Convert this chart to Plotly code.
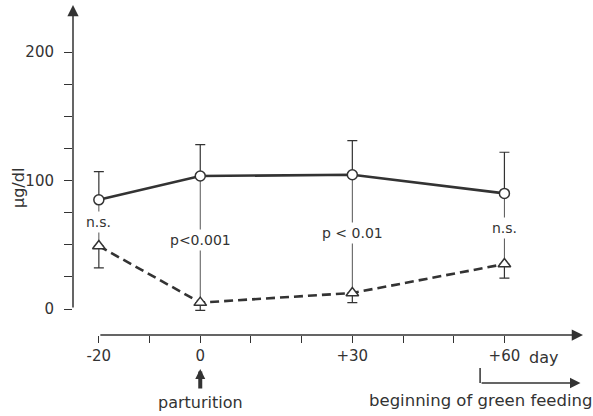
import plotly.graph_objects as go

# ---- data ----
days = [-20, 0, 30, 60]
circle_mean = [85, 103.5, 104.5, 90]
circle_upper = [107, 128, 131, 122]
tri_mean = [49, 5, 12.5, 35]
tri_lower = [32, -1, 5, 24]
sig_labels = ["n.s.", "p<0.001", "p < 0.01", "n.s."]

x_tickvals = [-20, -10, 0, 10, 20, 30, 40, 50, 60]
x_ticktext = ["-20", "", "0", "", "", "+30", "", "", "+60"]
y_tickvals = [0, 25, 50, 75, 100, 125, 150, 175, 200]
y_ticktext = ["0", "", "", "", "100", "", "", "", "200"]

# ---- layout constants ----
label_y = [67.7, 53.7, 59, 63]
X_RANGE = [-25.1, 75.5]
Y_RANGE = [-20.2, 236.6]
GREEN_START = 55.2
INK = "#333333"
FONT = "DejaVu Sans"
YD = "y domain"

fig = go.Figure()

# thin vertical connectors between the two series
cx, cy = [], []
for d, a, b in zip(days, circle_mean, tri_mean):
    cx += [d, d, None]
    cy += [a, b, None]
fig.add_trace(go.Scatter(x=cx, y=cy, mode="lines",
                         line=dict(color="#555555", width=1),
                         hoverinfo="skip", showlegend=False))

# dashed series with triangles (lower error bars)
fig.add_trace(go.Scatter(
    x=days, y=tri_mean, mode="lines+markers",
    line=dict(color=INK, width=2.6, dash="9px,5px"),
    marker=dict(symbol="triangle-up", size=11, color="white",
                line=dict(color=INK, width=1.5)),
    error_y=dict(type="data", symmetric=False,
                 array=[0] * len(days),
                 arrayminus=[m - l for m, l in zip(tri_mean, tri_lower)],
                 color=INK, thickness=1.2, width=5),
    showlegend=False))

# solid series with circles (upper error bars)
fig.add_trace(go.Scatter(
    x=days, y=circle_mean, mode="lines+markers",
    line=dict(color=INK, width=2.6),
    marker=dict(symbol="circle", size=10, color="white",
                line=dict(color=INK, width=1.5)),
    error_y=dict(type="data", symmetric=False,
                 array=[u - m for u, m in zip(circle_upper, circle_mean)],
                 arrayminus=[0] * len(days),
                 color=INK, thickness=1.2, width=5),
    showlegend=False))

annotations = []
for d, lab, ly in zip(days, sig_labels, label_y):
    annotations.append(dict(x=d, y=ly, xref="x", yref="y", text=lab,
                            xanchor="center", yanchor="middle",
                            showarrow=False, bgcolor="white", borderpad=2,
                            font=dict(family=FONT, size=14, color=INK)))

# y axis line with arrow
annotations.append(dict(x=X_RANGE[0], y=Y_RANGE[1], ax=X_RANGE[0], ay=0,
                        xref="x", yref="y", axref="x", ayref="y", text="",
                        showarrow=True, arrowhead=2, arrowsize=1.5,
                        arrowwidth=1.5, arrowcolor=INK))
# x axis line with arrow
annotations.append(dict(x=X_RANGE[1], y=Y_RANGE[0], ax=-20, ay=Y_RANGE[0],
                        xref="x", yref="y", axref="x", ayref="y", text="",
                        showarrow=True, arrowhead=2, arrowsize=1.5,
                        arrowwidth=1.5, arrowcolor=INK))

def py2d(py):
    return (335 - py) / 330.0

annotations.append(dict(x=67.8, y=py2d(357), xref="x", yref=YD,
                        xanchor="center", yanchor="middle",
                        text="day", showarrow=False,
                        font=dict(family=FONT, size=16, color=INK)))
# parturition arrow and label
annotations.append(dict(x=0, y=py2d(369), ax=0, ay=py2d(390),
                        xref="x", yref=YD, axref="x", ayref=YD,
                        text="", showarrow=True, arrowhead=2, arrowsize=0.5,
                        arrowwidth=4, arrowcolor=INK))
annotations.append(dict(x=0, y=py2d(402), xref="x", yref=YD,
                        xanchor="center", yanchor="middle",
                        text="parturition", showarrow=False,
                        font=dict(family=FONT, size=16, color=INK)))
# green feeding bent arrow and label
annotations.append(dict(x=X_RANGE[1] - 0.5, y=py2d(383), ax=GREEN_START,
                        ay=py2d(383), xref="x", yref=YD,
                        axref="x", ayref=YD, text="", showarrow=True,
                        arrowhead=2, arrowsize=1.4, arrowwidth=1.5,
                        arrowcolor=INK))
annotations.append(dict(x=(367 - 73) / 510.0, y=py2d(400), xref="paper",
                        yref="paper", xanchor="left", yanchor="middle",
                        text="beginning of green feeding",
                        showarrow=False,
                        font=dict(family=FONT, size=16.5, color=INK)))
annotations.append(dict(x=(18 - 73) / 510.0, y=py2d(188), xref="paper",
                        yref="paper", xanchor="center", yanchor="middle",
                        text="µg/dl", textangle=-90, showarrow=False,
                        font=dict(family=FONT, size=16, color=INK)))

shapes = [dict(type="line", xref="x", yref="paper", x0=GREEN_START,
               x1=GREEN_START, y0=py2d(368), y1=py2d(383),
               line=dict(color=INK, width=1.5))]

fig.update_layout(
    width=593, height=416,
    margin=dict(l=73, r=10, t=5, b=81),
    paper_bgcolor="white", plot_bgcolor="white",
    showlegend=False,
    annotations=annotations, shapes=shapes,
    xaxis=dict(range=X_RANGE, tickvals=x_tickvals, ticktext=x_ticktext,
               ticks="outside", ticklen=7, tickwidth=1.3, tickcolor=INK,
               showgrid=False, zeroline=False, showline=False,
               tickfont=dict(family=FONT, size=15, color=INK),
               fixedrange=True),
    yaxis=dict(range=Y_RANGE, tickvals=y_tickvals, ticktext=y_ticktext,
               ticks="outside", ticklen=8, tickwidth=1.3, tickcolor=INK,
               showgrid=False, zeroline=False, showline=False,
               ticklabelstandoff=7,
               tickfont=dict(family=FONT, size=15, color=INK),
               fixedrange=True),
)

fig.write_html("out.html")
